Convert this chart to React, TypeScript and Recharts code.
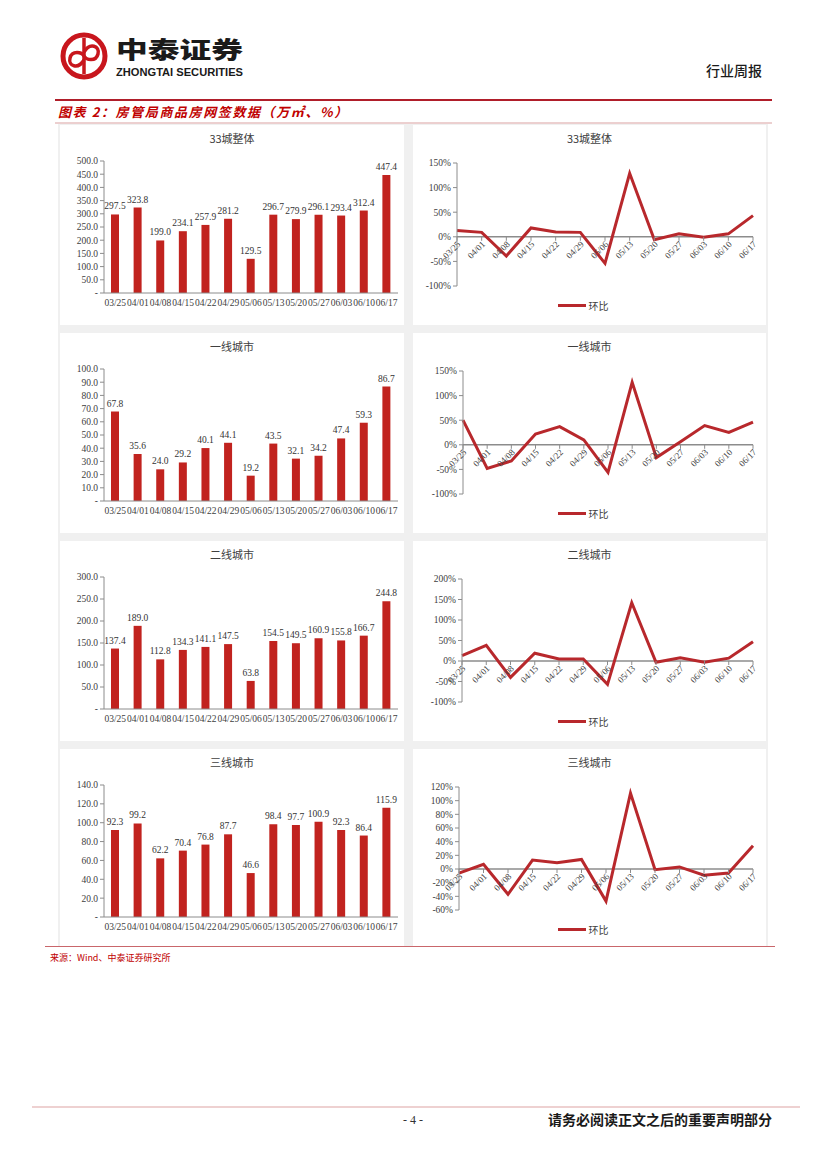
import React from "react";
import {
  Bar,
  BarChart,
  LabelList,
  Legend,
  Line,
  LineChart,
  ReferenceLine,
  XAxis,
  YAxis,
} from "recharts";

// weekly observation dates (shared by every panel)
const DATES = [
  "03/25", "04/01", "04/08", "04/15", "04/22", "04/29", "05/06",
  "05/13", "05/20", "05/27", "06/03", "06/10", "06/17",
];

// 网签面积（万㎡）
const CITY33_AREA = [297.5, 323.8, 199.0, 234.1, 257.9, 281.2, 129.5, 296.7, 279.9, 296.1, 293.4, 312.4, 447.4];
const TIER1_AREA = [67.8, 35.6, 24.0, 29.2, 40.1, 44.1, 19.2, 43.5, 32.1, 34.2, 47.4, 59.3, 86.7];
const TIER2_AREA = [137.4, 189.0, 112.8, 134.3, 141.1, 147.5, 63.8, 154.5, 149.5, 160.9, 155.8, 166.7, 244.8];
const TIER3_AREA = [92.3, 99.2, 62.2, 70.4, 76.8, 87.7, 46.6, 98.4, 97.7, 100.9, 92.3, 86.4, 115.9];

// 环比（%）
const CITY33_MOM = [13, 9, -39, 18, 10, 9, -54, 129, -6, 6, -1, 6, 43];
const TIER1_MOM = [50, -48, -33, 22, 37, 10, -56, 127, -26, 6, 39, 25, 46];
const TIER2_MOM = [13, 38, -40, 19, 5, 5, -57, 142, -3, 8, -3, 7, 47];
const TIER3_MOM = [-6, 7, -37, 13, 9, 14, -47, 111, -1, 3, -9, -6, 34];

// axis ticks
const CITY33_AREA_TICKS = [0, 50, 100, 150, 200, 250, 300, 350, 400, 450, 500];
const TIER1_AREA_TICKS = [0, 10, 20, 30, 40, 50, 60, 70, 80, 90, 100];
const TIER2_AREA_TICKS = [0, 50, 100, 150, 200, 250, 300];
const TIER3_AREA_TICKS = [0, 20, 40, 60, 80, 100, 120, 140];
const CITY33_MOM_TICKS = [-100, -50, 0, 50, 100, 150];
const TIER1_MOM_TICKS = [-100, -50, 0, 50, 100, 150];
const TIER2_MOM_TICKS = [-100, -50, 0, 50, 100, 150, 200];
const TIER3_MOM_TICKS = [-60, -40, -20, 0, 20, 40, 60, 80, 100, 120];

const BAR_RED = "#C1231F";
const LINE_RED = "#B8282C";
const BRAND_RED = "#C8161D";
const AXIS = "#8c8c8c";
const TEXT = "#404040";
const SERIF = "'Liberation Serif', 'Noto Sans CJK SC', serif";
const CJK = "'Noto Sans CJK SC', sans-serif";

const PANEL_H = 200;

function PanelTitle({ children }: { children: React.ReactNode }) {
  return (
    <div
      style={{
        position: "absolute",
        top: 5,
        left: 0,
        width: "100%",
        textAlign: "center",
        fontFamily: CJK,
        fontSize: 11,
        color: TEXT,
        zIndex: 1,
      }}
    >
      {children}
    </div>
  );
}

function AreaPanel({ title, values, ticks }: { title: string; values: number[]; ticks: number[] }) {
  const rows = DATES.map((date, i) => ({ date, value: values[i] }));
  const max = ticks[ticks.length - 1];
  return (
    <div style={{ position: "relative", width: 344, height: PANEL_H, background: "#fff" }}>
      <PanelTitle>{title}</PanelTitle>
      <BarChart width={344} height={PANEL_H} data={rows} margin={{ top: 36, right: 6, bottom: 0, left: 0 }}>
        <XAxis
          dataKey="date"
          interval={0}
          height={32}
          tickLine={false}
          tickSize={4}
          tickMargin={2}
          axisLine={{ stroke: AXIS }}
          tick={{ fontSize: 9.5, fill: TEXT, fontFamily: SERIF }}
        />
        <YAxis
          width={44}
          domain={[0, max]}
          ticks={ticks}
          interval={0}
          tickFormatter={(v: number) => (v === 0 ? "-  " : v.toFixed(1))}
          tick={{ fontSize: 9.5, fill: TEXT, fontFamily: SERIF }}
          tickSize={4}
          tickLine={{ stroke: AXIS }}
          axisLine={{ stroke: AXIS }}
        />
        <Bar dataKey="value" fill={BAR_RED} barSize={8} isAnimationActive={false}>
          <LabelList
            dataKey="value"
            position="top"
            offset={5}
            formatter={(v: number) => v.toFixed(1)}
            style={{ fontSize: 9.5, fill: "#333", fontFamily: SERIF }}
          />
        </Bar>
      </BarChart>
    </div>
  );
}

function RotatedTick(props: any) {
  const { x, payload, zeroY } = props;
  return (
    <g transform={`translate(${x},${zeroY})`}>
      <line x1={0} x2={0} y1={0} y2={4} stroke={AXIS} />
      <text
        transform="translate(4,8) rotate(-45)"
        textAnchor="end"
        fontSize={9}
        fill={TEXT}
        fontFamily={SERIF}
      >
        {payload.value}
      </text>
    </g>
  );
}

function MomLegend() {
  return (
    <div
      style={{
        height: 16,
        display: "flex",
        justifyContent: "center",
        alignItems: "center",
        gap: 3,
        fontFamily: CJK,
        fontSize: 10,
        color: TEXT,
      }}
    >
      <span style={{ display: "inline-block", width: 28, height: 3, background: LINE_RED }} />
      <span>环比</span>
    </div>
  );
}

function MomPanel({
  title,
  values,
  ticks,
  yWidth,
}: {
  title: string;
  values: number[];
  ticks: number[];
  yWidth: number;
}) {
  const rows = DATES.map((date, i) => ({ date, value: values[i] }));
  const min = ticks[0];
  const max = ticks[ticks.length - 1];
  const top = 38;
  const below = 39;
  const plotH = PANEL_H - top - below;
  const zeroY = top + (plotH * max) / (max - min);
  return (
    <div style={{ position: "relative", width: 353, height: PANEL_H, background: "#fff" }}>
      <PanelTitle>{title}</PanelTitle>
      <LineChart width={353} height={PANEL_H} data={rows} margin={{ top, right: 13, bottom: 22, left: 0 }}>
        <XAxis
          dataKey="date"
          interval={0}
          height={1}
          axisLine={false}
          tickLine={false}
          tick={<RotatedTick zeroY={zeroY} />}
        />
        <YAxis
          width={yWidth}
          domain={[min, max]}
          ticks={ticks}
          interval={0}
          tickFormatter={(v: number) => `${v}%`}
          tick={{ fontSize: 9.5, fill: TEXT, fontFamily: SERIF }}
          tickSize={4}
          tickLine={{ stroke: AXIS }}
          axisLine={{ stroke: AXIS }}
        />
        <ReferenceLine y={0} stroke={AXIS} strokeWidth={1.5} />
        <Line
          dataKey="value"
          name="环比"
          stroke={LINE_RED}
          strokeWidth={3}
          dot={false}
          isAnimationActive={false}
        />
        <Legend verticalAlign="bottom" height={16} content={<MomLegend />} wrapperStyle={{ bottom: 12 }} />
      </LineChart>
    </div>
  );
}

function Header() {
  return (
    <svg width={827} height={130} style={{ position: "absolute", left: 0, top: 0 }}>
      {/* logo emblem */}
      <circle cx={84} cy={56} r={21} fill="none" stroke={BRAND_RED} strokeWidth={5} />
      <line x1={84} y1={38} x2={84} y2={74} stroke={BRAND_RED} strokeWidth={3.5} />
      <path
        d="M84 60 C 78 70, 68 66, 70 58 C 72 50, 82 52, 84 56 C 86 60, 96 62, 98 54 C 100 46, 90 42, 84 52"
        fill="none"
        stroke={BRAND_RED}
        strokeWidth={3.5}
      />
      <text
        x={116}
        y={58}
        textLength={127}
        lengthAdjust="spacingAndGlyphs"
        fontFamily={CJK}
        fontWeight={900}
        fontSize={23}
        fill="#1a1a1a"
      >
        中泰证券
      </text>
      <text
        x={116}
        y={76}
        textLength={127}
        lengthAdjust="spacingAndGlyphs"
        fontFamily="'Liberation Sans', Arial, sans-serif"
        fontWeight={700}
        fontSize={10.5}
        fill="#1a1a1a"
      >
        ZHONGTAI SECURITIES
      </text>
      <text x={762} y={76} textAnchor="end" fontFamily={CJK} fontWeight={500} fontSize={14} fill="#1a1a1a">
        行业周报
      </text>
      <line x1={55} y1={100} x2={772} y2={100} stroke="#B01E2A" strokeWidth={2} />
      <text
        x={58}
        y={117}
        fontFamily={CJK}
        fontWeight={700}
        fontStyle="italic"
        fontSize={13}
        letterSpacing={1.6}
        fill="#C00000"
      >
        图表 2：房管局商品房网签数据（万㎡、%）
      </text>
      <line x1={55} y1={123} x2={772} y2={123} stroke="#D9A0A0" strokeWidth={1} />
    </svg>
  );
}

function Footer() {
  return (
    <svg width={827} height={260} style={{ position: "absolute", left: 0, top: 940 }}>
      <line x1={45} y1={6.5} x2={775} y2={6.5} stroke="#C9666B" strokeWidth={1} />
      <text x={50} y={21} fontFamily={CJK} fontSize={9} fill="#C00000">
        来源：Wind、中泰证券研究所
      </text>
      <line x1={32} y1={167} x2={800} y2={167} stroke="#E8C2C2" strokeWidth={1.5} />
      <text x={413} y={184} textAnchor="middle" fontFamily={SERIF} fontSize={12} fill="#333">
        - 4 -
      </text>
      <text x={772} y={185} textAnchor="end" fontFamily={CJK} fontWeight={700} fontSize={14} fill="#1a1a1a">
        请务必阅读正文之后的重要声明部分
      </text>
    </svg>
  );
}

const ROWS = [
  { area: ["33城整体", CITY33_AREA, CITY33_AREA_TICKS], mom: ["33城整体", CITY33_MOM, CITY33_MOM_TICKS, 44] },
  { area: ["一线城市", TIER1_AREA, TIER1_AREA_TICKS], mom: ["一线城市", TIER1_MOM, TIER1_MOM_TICKS, 50] },
  { area: ["二线城市", TIER2_AREA, TIER2_AREA_TICKS], mom: ["二线城市", TIER2_MOM, TIER2_MOM_TICKS, 49] },
  { area: ["三线城市", TIER3_AREA, TIER3_AREA_TICKS], mom: ["三线城市", TIER3_MOM, TIER3_MOM_TICKS, 46] },
] as const;

const ROW_TOPS = [1, 209, 417, 625];

export default function App() {
  return (
    <div style={{ position: "relative", width: 827, height: 1169, background: "#fff", overflow: "hidden" }}>
      <style>{"body{margin:0}"}</style>
      <Header />
      <div
        style={{
          position: "absolute",
          left: 58,
          top: 124,
          width: 710,
          height: 822,
          background: "#f0f0f0",
          overflow: "hidden",
        }}
      >
        {ROWS.map((row, i) => (
          <React.Fragment key={i}>
            <div style={{ position: "absolute", left: 2, top: ROW_TOPS[i] }}>
              <AreaPanel
                title={row.area[0] as string}
                values={row.area[1] as unknown as number[]}
                ticks={row.area[2] as unknown as number[]}
              />
            </div>
            <div style={{ position: "absolute", left: 355, top: ROW_TOPS[i] }}>
              <MomPanel
                title={row.mom[0] as string}
                values={row.mom[1] as unknown as number[]}
                ticks={row.mom[2] as unknown as number[]}
                yWidth={row.mom[3] as number}
              />
            </div>
          </React.Fragment>
        ))}
      </div>
      <Footer />
    </div>
  );
}
